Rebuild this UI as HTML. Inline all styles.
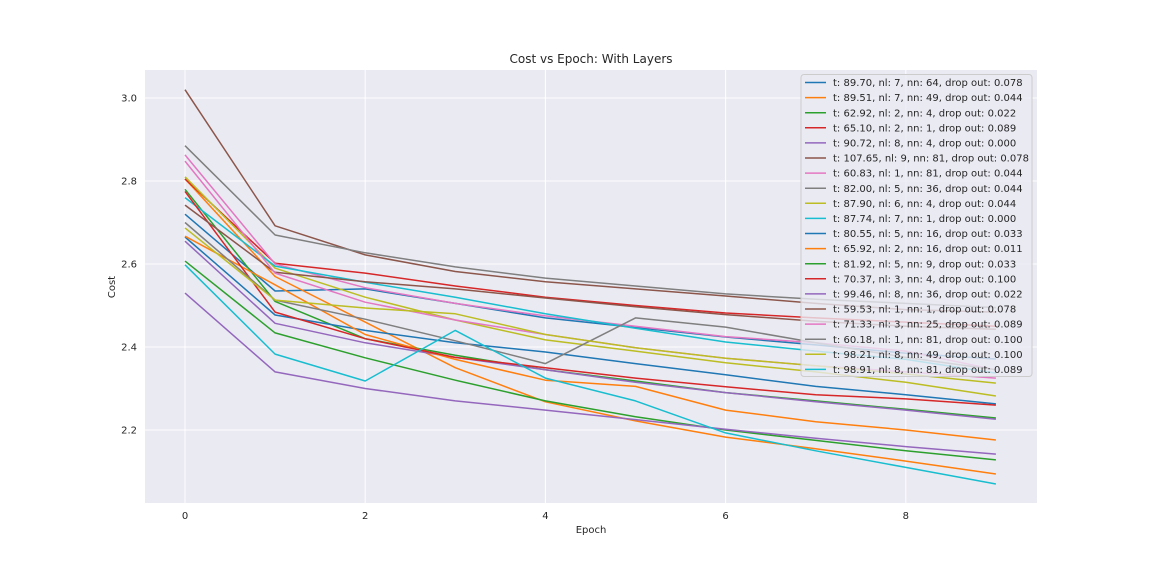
<!DOCTYPE html>
<html><head><meta charset="utf-8"><style>
html,body{margin:0;padding:0;background:#fff;}
svg{display:block;font-family:"DejaVu Sans","Liberation Sans",sans-serif;}
</style></head><body>
<svg id="chart" width="1152" height="576" xmlns="http://www.w3.org/2000/svg">
<rect x="145" y="70" width="892" height="433" fill="#EAEAF2"/>
<g id="grid"></g>
<g id="lines"></g>
<g id="ticks"></g>
<text x="591" y="63" text-anchor="middle" font-size="12" fill="#262626">Cost vs Epoch: With Layers</text>
<text x="591" y="533" text-anchor="middle" font-size="10" fill="#262626">Epoch</text>
<text x="115" y="287" text-anchor="middle" font-size="10" fill="#262626" transform="rotate(-90 115 287)">Cost</text>
<g id="legend"></g>
</svg>
<script>
const epochs = [0,1,2,3,4,5,6,7,8,9];
const xTicks = [0,2,4,6,8];
const yTicks = [2.2,2.4,2.6,2.8,3.0];
const yTickLabels = ["2.2","2.4","2.6","2.8","3.0"];
const labels = [
"t: 89.70, nl: 7, nn: 64, drop out: 0.078",
"t: 89.51, nl: 7, nn: 49, drop out: 0.044",
"t: 62.92, nl: 2, nn: 4, drop out: 0.022",
"t: 65.10, nl: 2, nn: 1, drop out: 0.089",
"t: 90.72, nl: 8, nn: 4, drop out: 0.000",
"t: 107.65, nl: 9, nn: 81, drop out: 0.078",
"t: 60.83, nl: 1, nn: 81, drop out: 0.044",
"t: 82.00, nl: 5, nn: 36, drop out: 0.044",
"t: 87.90, nl: 6, nn: 4, drop out: 0.044",
"t: 87.74, nl: 7, nn: 1, drop out: 0.000",
"t: 80.55, nl: 5, nn: 16, drop out: 0.033",
"t: 65.92, nl: 2, nn: 16, drop out: 0.011",
"t: 81.92, nl: 5, nn: 9, drop out: 0.033",
"t: 70.37, nl: 3, nn: 4, drop out: 0.100",
"t: 99.46, nl: 8, nn: 36, drop out: 0.022",
"t: 59.53, nl: 1, nn: 1, drop out: 0.078",
"t: 71.33, nl: 3, nn: 25, drop out: 0.089",
"t: 60.18, nl: 1, nn: 81, drop out: 0.100",
"t: 98.21, nl: 8, nn: 49, drop out: 0.100",
"t: 98.91, nl: 8, nn: 81, drop out: 0.089"];
const colors = ["#1f77b4","#ff7f0e","#2ca02c","#d62728","#9467bd","#8c564b","#e377c2","#7f7f7f","#bcbd22","#17becf"];
const s1  = [2.720,2.535,2.540,2.505,2.470,2.447,2.424,2.405,2.385,2.371];
const s2  = [2.805,2.570,2.460,2.350,2.268,2.222,2.183,2.155,2.125,2.094];
const s3  = [2.780,2.510,2.420,2.380,2.345,2.318,2.290,2.270,2.250,2.229];
const s4  = [2.805,2.602,2.578,2.547,2.520,2.500,2.482,2.470,2.460,2.450];
const s5  = [2.655,2.457,2.410,2.375,2.345,2.315,2.290,2.268,2.248,2.226];
const s6  = [3.020,2.692,2.622,2.582,2.557,2.540,2.523,2.505,2.490,2.484];
const s7  = [2.863,2.600,2.543,2.505,2.475,2.450,2.425,2.410,2.390,2.345];
const s8  = [2.885,2.670,2.627,2.593,2.566,2.547,2.528,2.515,2.505,2.495];
const s9  = [2.810,2.590,2.520,2.465,2.417,2.390,2.362,2.340,2.315,2.282];
const s10 = [2.760,2.595,2.556,2.520,2.480,2.445,2.412,2.390,2.370,2.337];
const s11 = [2.665,2.477,2.440,2.410,2.388,2.360,2.333,2.305,2.285,2.263];
const s12 = [2.667,2.550,2.430,2.370,2.320,2.305,2.248,2.220,2.200,2.176];
const s13 = [2.607,2.434,2.374,2.320,2.270,2.232,2.200,2.175,2.150,2.128];
const s14 = [2.775,2.484,2.420,2.375,2.350,2.325,2.304,2.285,2.275,2.260];
const s15 = [2.530,2.340,2.300,2.270,2.248,2.225,2.202,2.180,2.160,2.142];
const s16 = [2.742,2.580,2.557,2.540,2.518,2.497,2.478,2.462,2.450,2.443];
const s17 = [2.848,2.578,2.508,2.465,2.430,2.398,2.373,2.355,2.340,2.325];
const s18 = [2.700,2.513,2.467,2.415,2.360,2.470,2.448,2.410,2.375,2.345];
const s19 = [2.687,2.513,2.494,2.480,2.430,2.398,2.373,2.355,2.335,2.313];
const s20 = [2.598,2.383,2.318,2.440,2.325,2.270,2.193,2.150,2.110,2.070];
const series = [s1,s2,s3,s4,s5,s6,s7,s8,s9,s10,s11,s12,s13,s14,s15,s16,s17,s18,s19,s20];

const NS="http://www.w3.org/2000/svg";
function xs(e){return 185 + e*90.1;}
function ys(v){return 98 + (3.0 - v)*415;}
function mk(tag,attrs,parent){const el=document.createElementNS(NS,tag);for(const k in attrs)el.setAttribute(k,attrs[k]);parent.appendChild(el);return el;}
const grid=document.getElementById('grid'), ticks=document.getElementById('ticks');
xTicks.forEach(t=>{
  const l=mk('line',{x1:xs(t),x2:xs(t),y1:70,y2:503,stroke:'#fff','stroke-width':1},grid);
  
  
  const tx=mk('text',{x:xs(t),y:519,'text-anchor':'middle','font-size':10,fill:'#262626'},ticks);
  tx.textContent=String(t);
  
  
});
yTicks.forEach((t,i)=>{
  const l=mk('line',{x1:145,x2:1037,y1:ys(t),y2:ys(t),stroke:'#fff','stroke-width':1},grid);
  
  
  const tx=mk('text',{x:137,y:ys(t)+3.5,'text-anchor':'end','font-size':10,fill:'#262626'},ticks);
  tx.textContent=yTickLabels[i];
  
  
});
const lines=document.getElementById('lines');
series.forEach((s,i)=>{
  const pts=s.map((v,j)=>xs(epochs[j]).toFixed(1)+','+ys(v).toFixed(1)).join(' ');
  const p=mk('polyline',{points:pts,fill:'none',stroke:colors[i%10],'stroke-width':1.5,'stroke-linejoin':'round'},lines);
  
  
});
const leg=document.getElementById('legend');
const bg=mk('rect',{x:801,y:74.5,width:231,height:302,rx:3,fill:'#EAEAF2','fill-opacity':0.8,stroke:'#cccccc','stroke-width':1},leg);


labels.forEach((lab,i)=>{
  const y=82.5+i*15.1;
  const g=mk('g',{},leg);
  
  
  mk('line',{x1:805,x2:826,y1:y,y2:y,stroke:colors[i%10],'stroke-width':1.5},g);
  const t=mk('text',{x:833,y:y+3.6,'font-size':10,fill:'#262626'},g);
  t.textContent=lab;
});
</script>
</body></html>
